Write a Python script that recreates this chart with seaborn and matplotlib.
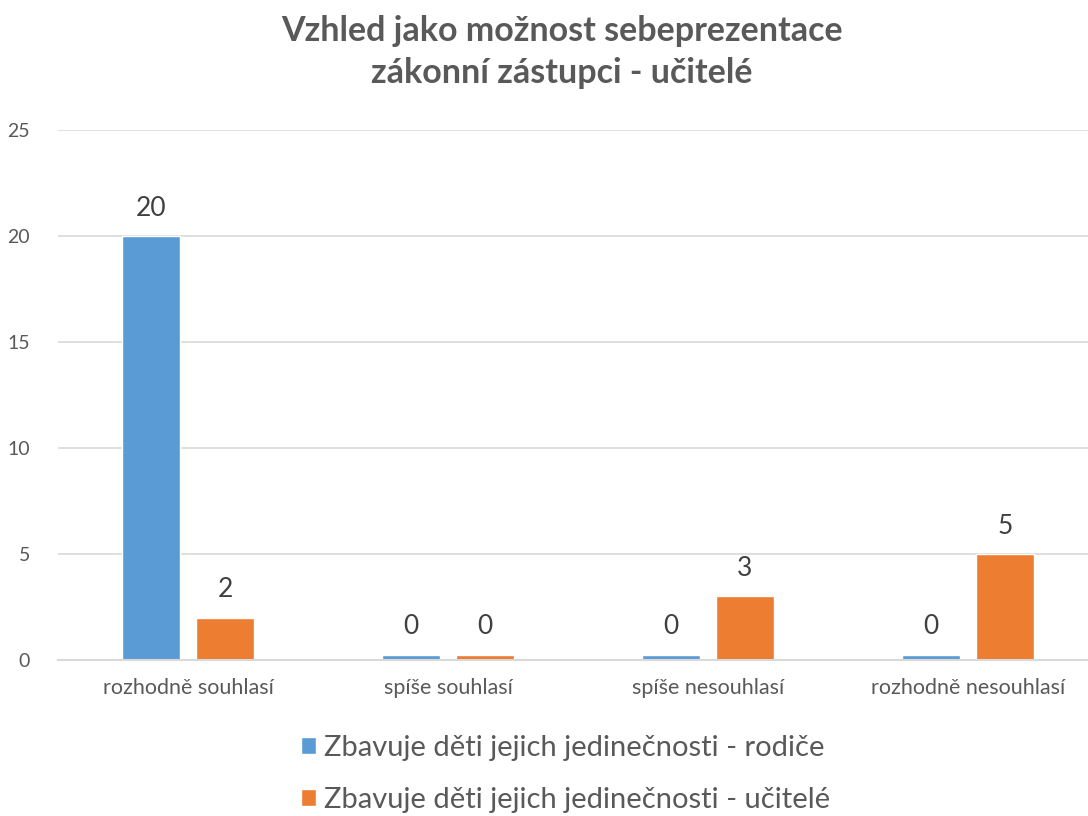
import numpy as np
import pandas as pd
import matplotlib.pyplot as plt
import seaborn as sns

# data
kategorie = ['rozhodně souhlasí', 'spíše souhlasí', 'spíše nesouhlasí', 'rozhodně nesouhlasí']
rodice = [20, 0, 0, 0]
ucitele = [2, 0, 3, 5]
serie = ['Zbavuje děti jejich jedinečnosti - rodiče', 'Zbavuje děti jejich jedinečnosti - učitelé']
y_ticks = [0, 5, 10, 15, 20, 25]

df = pd.DataFrame({
    'kategorie': kategorie * 2,
    'hodnota': rodice + ucitele,
    'serie': [serie[0]] * len(kategorie) + [serie[1]] * len(kategorie),
})

sns.set_theme(style='white')
plt.rcParams['font.family'] = ['Lato', 'DejaVu Sans']

barvy = ['#5B9BD5', '#ED7D31']
seda = '#595959'

fig = plt.figure(figsize=(10.88, 8.16), dpi=100)
ax = fig.add_axes([58 / 1088, 1 - 660 / 816, 1040 / 1088, 530 / 816])

sns.barplot(data=df, x='kategorie', y='hodnota', hue='serie', order=kategorie,
            hue_order=serie, palette=barvy, width=0.57, gap=0.22, saturation=1,
            ax=ax, legend=True)

ax.set_ylim(0, 25)
ax.set_yticks(y_ticks)
ax.set_xlim(-0.5, len(kategorie) - 0.5)

# zero bars shown as a thin stub like in Excel
stub = 0.01 * ax.get_ylim()[1]
for cont in ax.containers:
    vals = cont.datavalues
    for p, v in zip(cont.patches, vals):
        if v == 0:
            p.set_height(stub)
    ax.bar_label(cont, labels=[f'{v:g}' for v in vals], padding=11,
                 fontsize=19, color='#404040')

ax.yaxis.grid(True, color='#D9D9D9', linewidth=1.2)
ax.set_axisbelow(True)
for s in ['top', 'right', 'left']:
    ax.spines[s].set_visible(False)
ax.spines['bottom'].set_color('#D9D9D9')
ax.spines['bottom'].set_linewidth(1.5)
ax.tick_params(axis='both', length=0, colors=seda)
ax.tick_params(axis='y', labelsize=14, pad=20)
ax.tick_params(axis='x', labelsize=15.5, pad=13)
ax.set_xlabel('')
ax.set_ylabel('')

handles, labels = ax.get_legend_handles_labels()
ax.get_legend().remove()
fig.legend(handles, labels, loc='upper center', bbox_to_anchor=(0.52, 1 - 729 / 816),
           ncol=1, frameon=False, fontsize=21, labelcolor=seda,
           handlelength=0.5, handleheight=0.5, handletextpad=0.3,
           labelspacing=0.9, borderaxespad=0, borderpad=0.2)

fig.text(562 / 1088, 1 - 15 / 816, 'Vzhled jako možnost sebeprezentace\nzákonní zástupci - učitelé',
         ha='center', va='top', fontsize=24.5, fontweight='bold', color=seda,
         linespacing=1.4)

plt.savefig('out.png', dpi=100)
